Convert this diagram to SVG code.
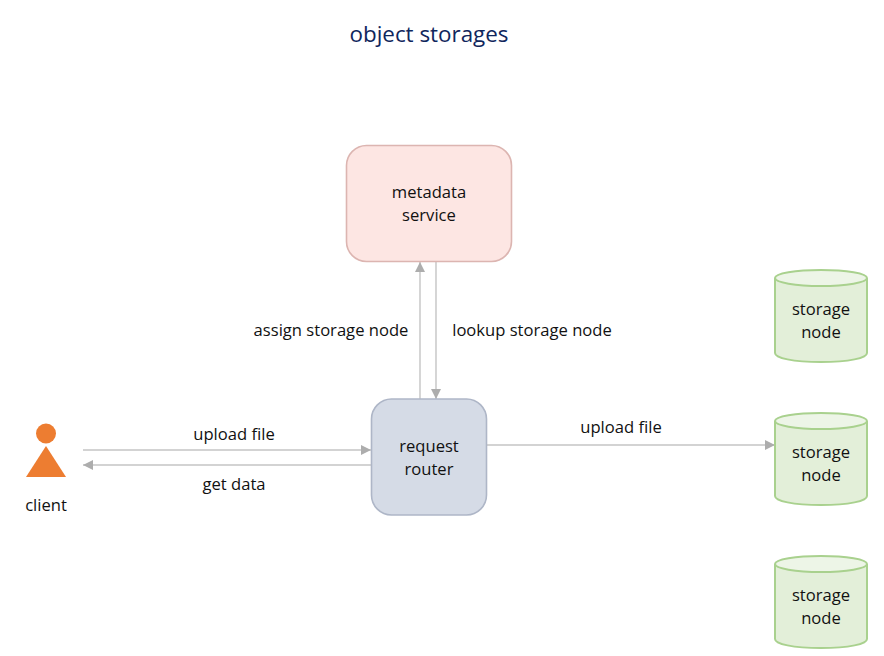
<svg xmlns="http://www.w3.org/2000/svg" width="884" height="656" viewBox="0 0 884 656">
<style>
text{font-family:"Open Sans","Noto Sans","Liberation Sans",sans-serif;font-size:16.6px;fill:#111;text-anchor:middle}
.title{font-size:22.4px;fill:#10265c}
.c{stroke:#c4c4c4;stroke-width:1.4;fill:none;marker-end:url(#a)}
.s{fill:#e3efd9;stroke:#a9d18e;stroke-width:2}
.t{fill:#edf5e7;stroke:#a9d18e;stroke-width:2}
</style>
<defs><marker id="a" markerUnits="userSpaceOnUse" markerWidth="11" markerHeight="10" refX="10" refY="5" orient="auto"><path d="M0 0L10 5L0 10Z" fill="#adadad"/></marker>
<g id="cyl"><path class="s" d="M775 279V353C775 358 793 362 821 362S867 358 867 353V279Z"/><ellipse class="t" cx="821" cy="278" rx="46" ry="8"/></g></defs>
<text class="title" x="429" y="42">object storages</text>
<g id="connectors">
<path class="c" d="M83 450H371"/><path class="c" d="M371 465H83"/>
<path class="c" d="M420 399V262"/><path class="c" d="M436 262V399"/>
<path class="c" d="M487 445H775"/>
</g>
<g id="metadata"><rect x="346.500" y="145.500" width="165" height="116" rx="20" fill="#fde6e3" stroke="#dcb5b1" stroke-width="1.600"/><text x="429" y="198">metadata</text><text x="429" y="221">service</text></g>
<g id="router"><rect x="371.500" y="399" width="115" height="116" rx="20" fill="#d5dbe6" stroke="#aeb6c7" stroke-width="1.600"/><text x="429" y="452">request</text><text x="429" y="475">router</text></g>
<g id="client"><circle cx="46" cy="433.500" r="10" fill="#ed7d31"/><path d="M46 446L66 477H26Z" fill="#ed7d31"/><text x="46" y="511">client</text></g>
<g id="storage1"><use href="#cyl"/><text x="821" y="315">storage</text><text x="821" y="338">node</text></g>
<g id="storage2"><use href="#cyl" y="143"/><text x="821" y="458">storage</text><text x="821" y="481">node</text></g>
<g id="storage3"><use href="#cyl" y="286"/><text x="821" y="601">storage</text><text x="821" y="624">node</text></g>
<g id="labels">
<text x="331" y="336">assign storage node</text>
<text x="532" y="336">lookup storage node</text>
<text x="234" y="440">upload file</text>
<text x="234" y="490">get data</text>
<text x="621" y="433">upload file</text>
</g>
</svg>
